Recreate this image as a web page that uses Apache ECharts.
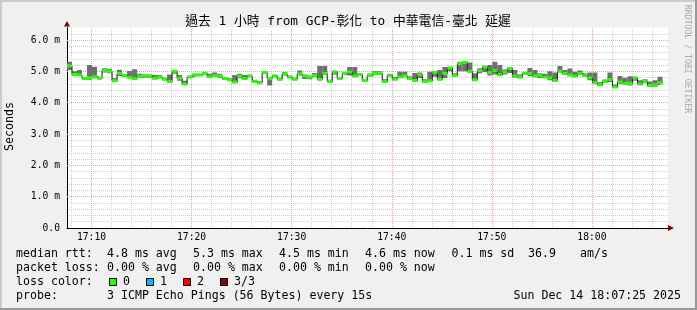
<!DOCTYPE html>
<html><head><meta charset="utf-8">
<script src="https://cdn.jsdelivr.net/npm/echarts@6/dist/echarts.min.js"></script>
<style>html,body{margin:0;padding:0;background:#f0f0f0}#c{width:697px;height:310px}</style>
</head><body><div id="c"></div>
<script>
// ---------- data ----------
const titleText = '過去 1 小時 from GCP-彰化 to 中華電信-臺北 延遲';
const yUnit = 'Seconds';
const startMin = 7.55;   // first sample, minutes after 17:00
const stepMin = 0.5;     // 30 s per sample
const axisStartMin = 7.55, axisEndMin = 67.6;
const xLabelValues = [10, 20, 30, 40, 50, 60];
const yLabelValues = [0, 1, 2, 3, 4, 5, 6];
const yMax = 6.4;

const median = [
 5.18,4.90,4.88,4.77,4.80,4.83,4.78,5.03,5.00,4.70,
 4.93,4.86,4.81,4.77,4.84,4.85,4.85,4.78,4.82,4.75,
 4.68,5.00,4.78,4.60,4.82,4.88,4.88,4.93,4.83,4.87,
 4.85,4.77,4.73,4.66,4.84,4.77,4.85,4.68,4.64,4.96,
 4.77,4.85,4.75,4.92,4.82,4.75,4.92,4.85,4.82,4.87,
 4.75,4.93,4.68,4.98,4.77,4.92,4.98,4.85,4.90,4.71,
 4.87,4.93,4.93,4.68,4.87,4.75,4.82,4.85,4.77,4.71,
 4.89,4.68,4.70,4.96,4.75,4.93,5.11,4.87,5.24,5.28,
 5.00,4.73,5.03,5.14,4.96,5.03,4.89,4.98,5.09,4.85,
 4.82,4.93,4.93,4.85,4.87,4.82,4.80,4.71,5.00,4.93,
 4.89,4.85,4.93,4.87,4.80,4.64,4.57,4.68,4.74,4.50,
 4.66,4.61,4.62,4.79,4.60,4.68,4.55,4.57,4.63
];
const smokeHi = [
 5.31,5.00,5.04,4.81,5.20,5.15,4.82,5.10,5.08,4.78,
 5.05,4.90,5.01,5.07,4.92,4.90,4.90,4.88,4.88,4.80,
 4.90,5.04,4.88,4.70,4.86,4.92,4.92,4.97,4.92,4.96,
 4.92,4.81,4.78,4.88,4.92,4.88,4.89,4.73,4.68,5.00,
 4.82,4.89,4.80,4.98,4.86,4.80,5.03,4.90,4.86,4.95,
 5.17,5.17,4.73,5.02,4.82,4.96,5.14,5.14,4.94,4.76,
 4.93,5.00,5.00,4.75,4.92,4.82,4.99,4.99,4.84,4.95,
 4.96,4.75,4.99,5.00,5.04,5.14,5.15,4.94,5.31,5.32,
 5.28,4.94,5.10,5.15,5.20,5.31,5.20,5.06,5.13,5.04,
 4.90,4.98,5.11,5.04,4.94,4.92,5.00,4.96,5.17,5.04,
 5.09,4.99,5.03,4.93,4.96,4.96,4.65,4.74,4.96,4.58,
 4.85,4.80,4.84,4.83,4.72,4.75,4.68,4.72,4.83
];
const smokeLo = [
 5.04,4.85,4.85,4.74,4.73,4.78,4.75,4.96,4.94,4.67,
 4.85,4.83,4.78,4.74,4.80,4.80,4.80,4.75,4.79,4.72,
 4.65,4.92,4.70,4.57,4.79,4.85,4.85,4.88,4.80,4.84,
 4.80,4.74,4.70,4.63,4.78,4.74,4.82,4.65,4.61,4.92,
 4.55,4.82,4.72,4.87,4.79,4.72,4.87,4.76,4.75,4.84,
 4.72,4.88,4.65,4.90,4.74,4.89,4.87,4.82,4.87,4.68,
 4.82,4.88,4.88,4.65,4.83,4.72,4.80,4.82,4.74,4.68,
 4.79,4.65,4.67,4.83,4.72,4.79,5.00,4.84,5.00,5.00,
 4.96,4.70,4.94,4.98,4.87,4.90,4.85,4.90,4.95,4.80,
 4.78,4.88,4.85,4.82,4.79,4.79,4.72,4.68,4.96,4.90,
 4.84,4.82,4.88,4.84,4.72,4.61,4.53,4.65,4.66,4.47,
 4.60,4.58,4.55,4.70,4.57,4.62,4.51,4.51,4.60
];

const legendRows = [
  {y: 254, items: [[16,'median rtt:'],[107,'4.8 ms avg'],[193,'5.3 ms max'],[279,'4.5 ms min'],[365,'4.6 ms now'],[451.5,'0.1 ms sd'],[528,'36.9'],[580,'am/s']]},
  {y: 268, items: [[16,'packet loss:'],[107,'0.00 % avg'],[193,'0.00 % max'],[279,'0.00 % min'],[365,'0.00 % now']]},
  {y: 282, items: [[16,'loss color:'],[123,'0'],[160,'1'],[197,'2'],[234,'3/3']]},
  {y: 296, items: [[16,'probe:'],[107,'3 ICMP Echo Pings (56 Bytes) every 15s']]}
];
const lossColors = [['#26ff00',109],['#00b8ff',146],['#ff0000',183],['#8b0000',220]];
const dateText = 'Sun Dec 14 18:07:25 2025';

// ---------- build ----------
const MONO = '"DejaVu Sans Mono", monospace';
const TITLEFONT = '"DejaVu Sans Mono", "Noto Sans CJK TC", monospace';
const G = {left: 67, right: 29, top: 27.5, bottom: 82};
const W = 697, H = 310;
const plotRight = W - G.right, plotBottom = H - G.bottom;

const bins = median.map((m, i) => [startMin + i*stepMin, startMin + (i+1)*stepMin, smokeLo[i], smokeHi[i], m]);
const lineData = median.map((m, i) => [startMin + i*stepMin, m]);
lineData.push([startMin + median.length*stepMin, median[median.length-1]]);

const minorV = [], majorV = [];
for (let v = 8; v <= 66; v += 2) { if (v % 10 === 0) majorV.push({xAxis: v}); else minorV.push({xAxis: v}); }
const majorH = [1,2,3,4,5,6].map(v => ({yAxis: v}));

const fmtTime = v => (v >= 60 ? '18:' + String(Math.round(v-60)).padStart(2,'0') : '17:' + String(Math.round(v)).padStart(2,'0'));

const graphics = [
  {type:'rect', shape:{x:0,y:0,width:W,height:H}, style:{fill:'#f0f0f0'}, z:-10, silent:true},
  {type:'rect', shape:{x:0,y:0,width:W,height:2}, style:{fill:'#cbcbcb'}, z:-9, silent:true},
  {type:'rect', shape:{x:0,y:0,width:2,height:H}, style:{fill:'#cbcbcb'}, z:-9, silent:true},
  {type:'rect', shape:{x:0,y:H-2,width:W,height:2}, style:{fill:'#999999'}, z:-9, silent:true},
  {type:'rect', shape:{x:W-2,y:0,width:2,height:H}, style:{fill:'#999999'}, z:-9, silent:true},
  {type:'text', x: 348, y: 21.5, style:{text: titleText, font: '12.8px ' + TITLEFONT, fill:'#000', align:'center', verticalAlign:'middle'}},
  {type:'text', x: 10, y: 126.5, rotation: Math.PI/2, style:{text: yUnit, font: '11.6px ' + MONO, fill:'#000', align:'center', verticalAlign:'middle'}},
  {type:'text', x: 687.5, y: 59, rotation: -Math.PI/2, style:{text: 'RRDTOOL / TOBI OETIKER', font: '8.2px ' + MONO, fill:'#a8a8a8', align:'center', verticalAlign:'middle'}},
  // arrows
  {type:'polygon', shape:{points:[[G.left-3, G.top-1],[G.left+3, G.top-1],[G.left, G.top-6.5]]}, style:{fill:'#7f0000'}, z:20},
  {type:'polygon', shape:{points:[[plotRight, plotBottom-3],[plotRight, plotBottom+3],[plotRight+6, plotBottom]]}, style:{fill:'#7f0000'}, z:20},
  {type:'text', x: 681, y: 296, style:{text: dateText, font: '11.6px ' + MONO, fill:'#000', align:'right', verticalAlign:'middle'}}
];
legendRows.forEach(r => r.items.forEach(([x, t]) => graphics.push({type:'text', x, y:r.y, style:{text:t, font:'11.6px ' + MONO, fill:'#000', align:'left', verticalAlign:'middle'}})));
lossColors.forEach(([c, x]) => graphics.push({type:'rect', shape:{x:x+0.5, y:278.5, width:7, height:7}, style:{fill:c, stroke:'#000', lineWidth:1}}));

const chart = echarts.init(document.getElementById('c'), null, {renderer:'canvas'});
chart.setOption({
  animation: false,
  backgroundColor: '#f0f0f0',
  grid: Object.assign({show:true, backgroundColor:'#ffffff', borderWidth:0, outerBoundsMode:'none', containLabel:false}, G),
  xAxis: {
    type:'value', min: axisStartMin, max: axisEndMin,
    axisLine:{show:true, onZero:false, lineStyle:{color:'#000', width:1}},
    axisTick:{show:false},
    splitLine:{show:false},
    axisLabel:{customValues: xLabelValues, formatter: v => (xLabelValues.indexOf(Math.round(v)) >= 0 ? fmtTime(v) : ''), fontFamily: MONO, fontSize: 9.7, color:'#000', margin: 4}
  },
  yAxis: {
    type:'value', min: 0, max: yMax, interval: 0.2,
    axisLine:{show:true, lineStyle:{color:'#000', width:1}},
    axisTick:{show:false},
    splitLine:{show:true, showMaxLine:false, showMinLine:false, lineStyle:{color:'#cfcfcf', type:[1,1], width:1}},
    axisLabel:{customValues: yLabelValues, formatter: v => { const r = Math.round(v); if (Math.abs(v-r) > 1e-6) return ''; return r === 0 ? '0.0' : r.toFixed(1) + ' m'; }, fontFamily: MONO, fontSize: 9.7, color:'#000', margin: 7}
  },
  series: [
    {type:'line', name:'grid', data:[[axisStartMin, 0]], showSymbol:false, symbol:'none', lineStyle:{opacity:0}, z:1, silent:true,
     markLine:{z:1, silent:true, symbol:['none','none'], label:{show:false}, animation:false,
       data: [
         ...minorV.map(d => Object.assign({lineStyle:{color:'#cfcfcf', type:[1,1], width:1}}, d)),
         ...majorV.map(d => Object.assign({lineStyle:{color:'#eba5a5', type:[1,1], width:1}}, d)),
         ...majorH.map(d => Object.assign({lineStyle:{color:'#eba5a5', type:[1,1], width:1}}, d))
       ]}},
    {type:'custom', name:'smoke', data: bins, encode:{x:[0,1], y:[2,3]}, z:6, silent:true, clip:true,
     renderItem: (params, api) => {
       const p0 = api.coord([api.value(0), api.value(3)]);
       const p1 = api.coord([api.value(1), api.value(2)]);
       return {type:'rect', shape:{x:p0[0], y:p0[1], width:p1[0]-p0[0], height:Math.max(1, p1[1]-p0[1])}, style:{fill:'#707070'}};
     }},
    {type:'line', name:'median', data: lineData, step:'end', showSymbol:false, symbol:'none', lineStyle:{color:'#1a1a1a', width:1}, z:7, silent:true},
    {type:'custom', name:'loss0', data: bins, encode:{x:[0,1], y:[4]}, z:8, silent:true, clip:true,
     renderItem: (params, api) => {
       const p0 = api.coord([api.value(0), api.value(4)]);
       const p1 = api.coord([api.value(1), api.value(4)]);
       return {type:'rect', shape:{x:p0[0], y:p0[1]-1.5, width:p1[0]-p0[0], height:3}, style:{fill:'#26ff00'}};
     }}
  ],
  graphic: graphics
});
</script></body></html>
